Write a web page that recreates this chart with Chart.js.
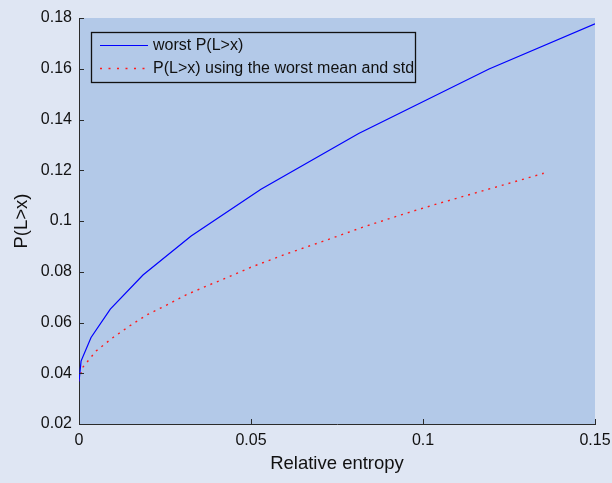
<!DOCTYPE html>
<html>
<head>
<meta charset="utf-8">
<script src="https://cdn.jsdelivr.net/npm/chart.js@4"></script>
<style>
  body { margin: 0; background: #dfe6f3; }
  canvas { display: block; }
</style>
</head>
<body>
<canvas id="myChart" width="612" height="483"></canvas>
<script>
// values
const worstX = [0, 0.0006, 0.0035, 0.0091, 0.0186, 0.0326, 0.0529, 0.0813, 0.1192, 0.15];
const worstY = [0.0367, 0.0448, 0.0541, 0.0653, 0.0787, 0.0941, 0.1125, 0.1345, 0.1599, 0.1777];

const meanStdX = [0, 0.001, 0.005, 0.01, 0.015, 0.02, 0.026, 0.031, 0.037, 0.043, 0.05, 0.06, 0.072, 0.083, 0.095, 0.103, 0.113, 0.129, 0.1351];
const meanStdY = [0.037, 0.0422, 0.0488, 0.0542, 0.0589, 0.0632, 0.0672, 0.0708, 0.0743, 0.0777, 0.0818, 0.0869, 0.0925, 0.0978, 0.1030, 0.1063, 0.1102, 0.1164, 0.1188];

const seriesLabels = ['worst P(L>x)', 'P(L>x) using the worst mean and std'];
const xTicks = [0, 0.05, 0.1, 0.15];
const yTicks = [0.02, 0.04, 0.06, 0.08, 0.1, 0.12, 0.14, 0.16, 0.18];

const FONT = "'Liberation Sans', Arial, sans-serif";

function toPoints(xs, ys) {
    return xs.map((x, i) => ({ x: x, y: ys[i] }));
}

// figure and axes background, inward tick marks, boxed legend
const matlabLook = {
    id: 'matlabLook',
    beforeDraw(chart) {
        const { ctx, chartArea: a } = chart;
        ctx.save();
        ctx.fillStyle = '#dfe6f3';
        ctx.fillRect(0, 0, chart.width, chart.height);
        ctx.fillStyle = '#b3c9e8';
        ctx.fillRect(a.left, a.top, a.right - a.left, a.bottom - a.top);
        ctx.restore();
    },
    afterDraw(chart) {
        const { ctx, chartArea: a, scales } = chart;
        ctx.save();
        ctx.strokeStyle = '#2b2b2b';
        ctx.lineWidth = 1;
        yTicks.forEach(v => {
            const y = Math.round(scales.y.getPixelForValue(v)) + 0.5;
            ctx.beginPath();
            ctx.moveTo(a.left, y);
            ctx.lineTo(a.left + 5, y);
            ctx.stroke();
        });
        xTicks.forEach(v => {
            const x = Math.round(scales.x.getPixelForValue(v)) + 0.5;
            ctx.beginPath();
            ctx.moveTo(x, a.bottom);
            ctx.lineTo(x, a.bottom - 5);
            ctx.stroke();
        });

        // legend box
        const bx = 91, by = 32, bw = 324, bh = 50;
        ctx.fillStyle = '#b3c9e8';
        ctx.fillRect(bx, by, bw, bh);
        ctx.strokeStyle = '#111';
        ctx.lineWidth = 1.3;
        ctx.strokeRect(bx + 0.5, by + 0.5, bw, bh);
        const rows = [45.5, 68.5];
        chart.data.datasets.forEach((ds, i) => {
            const y = rows[i];
            ctx.beginPath();
            ctx.strokeStyle = ds.borderColor;
            ctx.lineWidth = i === 0 ? 1.2 : 1.6;
            ctx.setLineDash(i === 0 ? [] : [2, 6.5]);
            ctx.moveTo(100, y);
            ctx.lineTo(148, y);
            ctx.stroke();
            ctx.setLineDash([]);
            ctx.fillStyle = '#111';
            ctx.font = '16px ' + FONT;
            ctx.textBaseline = 'middle';
            ctx.textAlign = 'left';
            ctx.fillText(ds.label, 153, y);
        });
        ctx.restore();
    }
};

const ctx = document.getElementById('myChart').getContext('2d');
const myChart = new Chart(ctx, {
    type: 'line',
    data: {
        datasets: [{
            label: seriesLabels[0],
            data: toPoints(worstX, worstY),
            borderColor: '#0000ff',
            borderWidth: 1.2,
            pointRadius: 0,
            tension: 0,
            fill: false
        }, {
            label: seriesLabels[1],
            data: toPoints(meanStdX, meanStdY),
            borderColor: '#ff1a1a',
            borderWidth: 1.4,
            borderDash: [2, 5],
            pointRadius: 0,
            tension: 0,
            fill: false
        }]
    },
    options: {
        responsive: false,
        animation: false,
        layout: {
            padding: { top: 18, right: 17, left: 0, bottom: 0 }
        },
        plugins: {
            legend: { display: false },
            tooltip: { enabled: false }
        },
        scales: {
            x: {
                type: 'linear',
                min: 0,
                max: 0.15,
                afterBuildTicks: s => { s.ticks = xTicks.map(v => ({ value: v })); },
                afterFit: s => { s.height = 59; s.paddingLeft = 0; s.paddingRight = 0; },
                grid: { display: false, drawTicks: false },
                border: { display: true, color: '#2b2b2b', width: 1 },
                ticks: {
                    padding: 7,
                    color: '#111',
                    font: { family: FONT, size: 16 },
                    maxRotation: 0,
                    callback: v => String(+v.toFixed(2))
                },
                title: {
                    display: true,
                    text: 'Relative entropy',
                    color: '#111',
                    font: { family: FONT, size: 18.5 },
                    padding: { top: 0, bottom: 8 }
                }
            },
            y: {
                type: 'linear',
                min: 0.02,
                max: 0.18,
                afterBuildTicks: s => { s.ticks = yTicks.map(v => ({ value: v })); },
                afterFit: s => { s.width = 79; s.paddingTop = 0; s.paddingBottom = 0; },
                grid: { display: false, drawTicks: false },
                border: { display: true, color: '#2b2b2b', width: 1 },
                ticks: {
                    padding: 7,
                    color: '#111',
                    font: { family: FONT, size: 16 },
                    callback: v => String(+v.toFixed(2))
                },
                title: {
                    display: true,
                    text: 'P(L>x)',
                    color: '#111',
                    font: { family: FONT, size: 18.5 },
                    padding: { top: 11, bottom: 0 }
                }
            }
        }
    },
    plugins: [matlabLook]
});
</script>
</body>
</html>
